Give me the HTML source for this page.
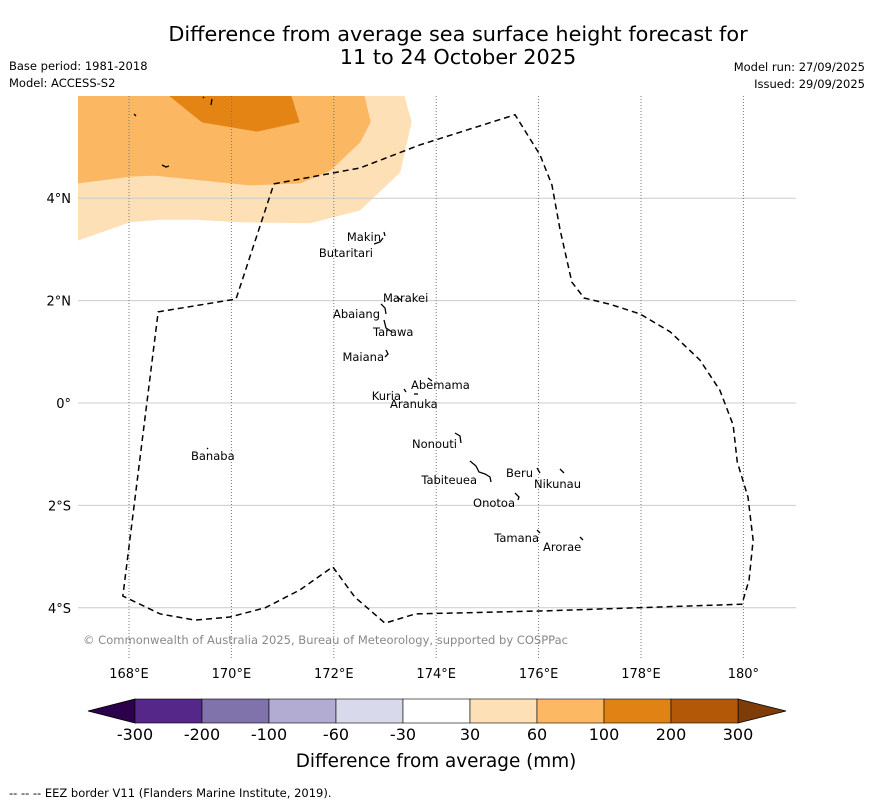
<!DOCTYPE html>
<html><head><meta charset="utf-8"><style>
body{margin:0;background:#fff;font-family:"DejaVu Sans","Liberation Sans",sans-serif}
svg text{font-family:"DejaVu Sans","Liberation Sans",sans-serif}
</style></head><body>
<svg id="s" width="873" height="804" viewBox="0 0 873 804" xmlns="http://www.w3.org/2000/svg">
<text x="458" y="41" font-size="20.8" text-anchor="middle">Difference from average sea surface height forecast for</text>
<text x="458" y="64" font-size="20.8" text-anchor="middle">11 to 24 October 2025</text>
<text x="9" y="70" font-size="11.5">Base period: 1981-2018</text>
<text x="9" y="87" font-size="11.5">Model: ACCESS-S2</text>
<text x="865" y="71" font-size="11.5" text-anchor="end">Model run: 27/09/2025</text>
<text x="865" y="88" font-size="11.5" text-anchor="end">Issued: 29/09/2025</text>
<g id="map"></g>
<g id="cb"></g>
<text x="436" y="767" font-size="18.4" text-anchor="middle">Difference from average (mm)</text>
<text x="9" y="797" font-size="11.5">--  --  -- EEZ border V11 (Flanders Marine Institute, 2019).</text>
</svg>
<script>
const lonTicks=[168,170,172,174,176,178,180];
const lonLabels=["168°E","170°E","172°E","174°E","176°E","178°E","180°"];
const latTicks=[4,2,0,-2,-4];
const latLabels=["4°N","2°N","0°","2°S","4°S"];
const eezLon=[170.83,172.51,173.68,175.54,176.03,176.26,176.42,176.65,176.89,177.39,177.98,178.57,179.15,179.54,179.80,179.88,180.09,180.19,180.11,179.97,176.13,173.59,173.00,172.41,171.98,171.34,170.66,169.97,169.29,168.61,167.88,168.57,170.09,170.83];
const eezLat=[4.28,4.59,5.04,5.63,4.84,4.26,3.38,2.36,2.05,1.93,1.74,1.39,0.84,0.25,-0.43,-1.15,-1.84,-2.68,-3.46,-3.93,-4.06,-4.12,-4.30,-3.79,-3.20,-3.65,-4.00,-4.18,-4.24,-4.12,-3.77,1.78,2.03,4.28];
const c30Lon=[167,168.02,168.61,169.29,170.17,171.54,172.51,173.29,173.51,173.37,167];
const c30Lat=[3.18,3.54,3.59,3.59,3.54,3.52,3.77,4.51,5.49,6.0,6.0];
const c60Lon=[167,168.02,168.51,169.39,170.36,171.34,171.93,172.51,172.71,172.59,167];
const c60Lat=[4.30,4.43,4.45,4.36,4.26,4.30,4.55,5.10,5.49,6.0,6.0];
const c100Lon=[168.80,169.43,170.50,171.32,171.16];
const c100Lat=[6.0,5.49,5.31,5.49,6.0];
const cbBounds=["-300","-200","-100","-60","-30","30","60","100","200","300"];
const cbColors=["#542788","#8073ac","#b2abd2","#d8daeb","#ffffff","#fee0b6","#fdb863","#e08214","#b35806"];
const islands=[["Makin",381,241,"end"],["Butaritari",373,257,"end"],["Marakei",383,302,"start"],["Abaiang",380,318,"end"],["Tarawa",373,336,"start"],["Maiana",384,361,"end"],["Abemama",411,389,"start"],["Kuria",401,400,"end"],["Aranuka",390,408,"start"],["Nonouti",457,448,"end"],["Banaba",191,460,"start"],["Beru",533,477,"end"],["Nikunau",534,488,"start"],["Tabiteuea",477,484,"end"],["Onotoa",515,507,"end"],["Tamana",539,542,"end"],["Arorae",543,551,"start"]];
const atolls=["M384,232 l1,4 M374,244 l6,-2 l3,-4","M397,297 l4,3","M381,304 l4,4 l1,6","M384,320 l2,8 l6,4","M386,350 l2,4 l-3,3","M428,378 l4,3","M404,389 l2,3","M414,394 l4,0","M455,433 l5,3 l1,7","M207,448 l1,1","M470,461 l6,5 l3,6 l6,2 l5,3 l1,5","M537,468 l3,5","M560,469 l4,4","M515,493 l4,4 l-1,3","M537,530 l3,3","M580,537 l3,3","M134,114 l2,2","M203,97 l1,1 M212,99 l-1,6","M162,165 l4,2 l3,-1"];
const NS="http://www.w3.org/2000/svg";
const X=lon=>129+(lon-168)*51.2, Y=lat=>403-lat*51.2;
const map=document.getElementById('map');
function mk(tag,attrs,parent){const e=document.createElementNS(NS,tag);for(const k in attrs)e.setAttribute(k,attrs[k]);parent.appendChild(e);return e;}
const cp=mk('clipPath',{id:'clip'},map);mk('rect',{x:78,y:96,width:718,height:563},cp);
const g=mk('g',{'clip-path':'url(#clip)'},map);
function poly(lons,lats,fill,name){const p=mk('polygon',{points:lons.map((l,i)=>X(l)+','+Y(lats[i])).join(' '),fill:fill,stroke:fill,'stroke-width':1},g);

}
poly(c30Lon,c30Lat,'#fee0b6','contour-30-60');
poly(c60Lon,c60Lat,'#fbb761','contour-60-100');
poly(c100Lon,c100Lat,'#e38414','contour-100-200');
latTicks.forEach((t,i)=>{const l=mk('line',{x1:78,x2:796,y1:Y(t),y2:Y(t),stroke:'#ccc','stroke-width':1},g);


const tx=mk('text',{x:71,y:Y(t)+5,'font-size':13,'text-anchor':'end'},map);tx.textContent=latLabels[i];

});
lonTicks.forEach((t,i)=>{const l=mk('line',{x1:X(t),x2:X(t),y1:96,y2:659,stroke:'#777','stroke-width':1,'stroke-dasharray':'1,2'},g);


const tx=mk('text',{x:X(t),y:678,'font-size':13,'text-anchor':'middle'},map);tx.textContent=lonLabels[i];

});
const eez=mk('polyline',{points:eezLon.map((l,i)=>X(l)+','+Y(eezLat[i])).join(' '),fill:'none',stroke:'#000','stroke-width':1.5,'stroke-dasharray':'6,4'},g);


atolls.forEach(d=>{const p=mk('path',{d:d,fill:'none',stroke:'#000','stroke-width':1.3},g);

});
islands.forEach(d=>{const t=mk('text',{x:d[1],y:d[2],'font-size':11.5,'text-anchor':d[3]},map);t.textContent=d[0];

});
const cr=mk('text',{x:83,y:644,'font-size':11.5,fill:'#888',textLength:485,lengthAdjust:'spacingAndGlyphs'},map);cr.textContent='© Commonwealth of Australia 2025, Bureau of Meteorology, supported by COSPPac';


const cb=document.getElementById('cb');const x0=135,w=(738-135)/cbColors.length;
const lt=mk('polygon',{points:`88,711 ${x0},699 ${x0},723`,fill:'#2d004b',stroke:'#000','stroke-width':0.8},cb);


const rt=mk('polygon',{points:`738,699 786,711 738,723`,fill:'#7f3b08',stroke:'#000','stroke-width':0.8},cb);


cbColors.forEach((c,i)=>{const r=mk('rect',{x:x0+i*w,y:699,width:w,height:24,fill:c,stroke:'#000','stroke-width':0.6},cb);

});
cbBounds.forEach((b,i)=>{const t=mk('text',{x:x0+i*w,y:740,'font-size':16,'text-anchor':'middle'},cb);t.textContent=b;

});
</script>
</body></html>
